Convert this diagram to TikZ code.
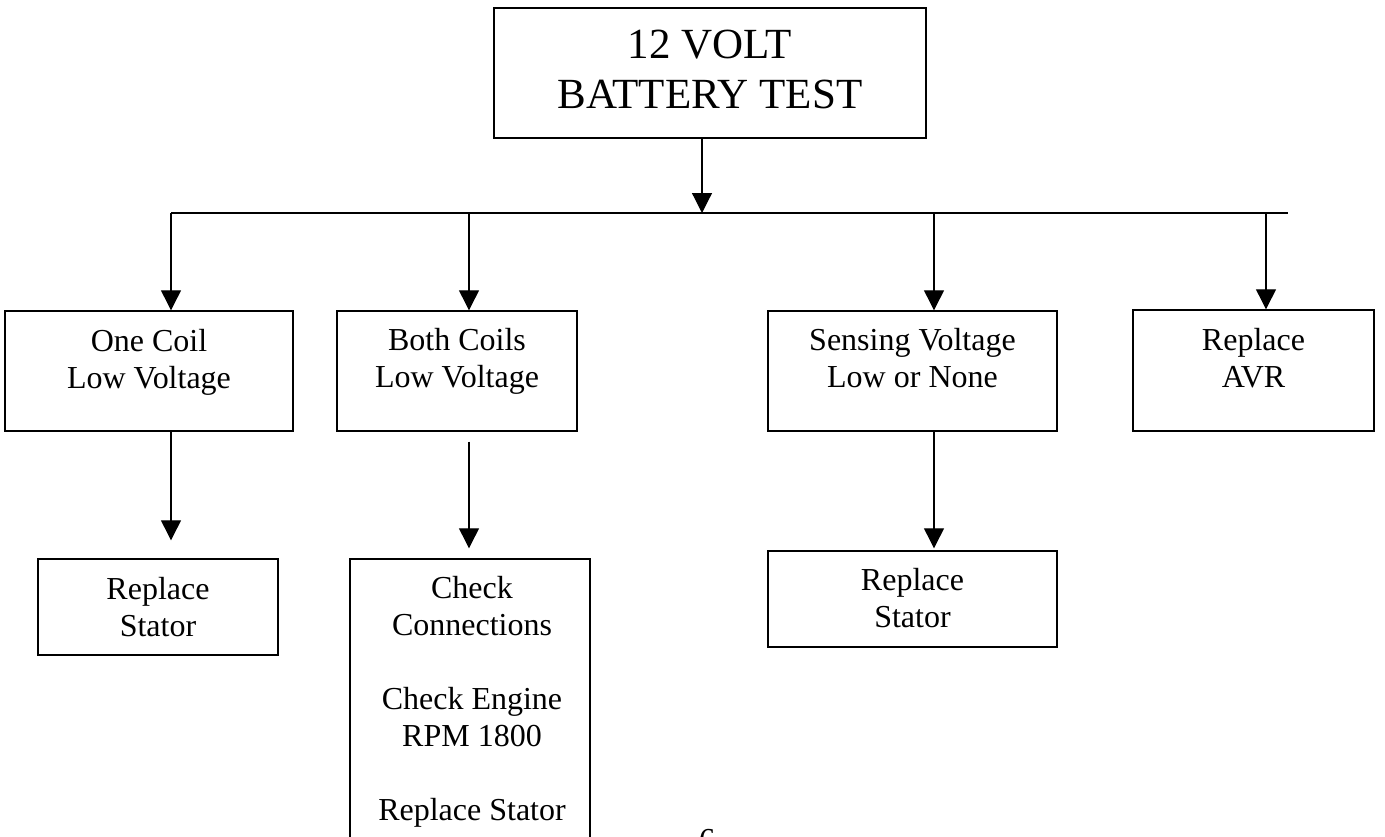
\documentclass[tikz,border=0pt]{standalone}
\usepackage{fontspec}
\setmainfont{Liberation Serif}
\usetikzlibrary{arrows.meta}
\tikzset{
  boxnode/.style={draw, line width=1.4pt, inner sep=0pt},
  bigtxt/.style={inner sep=0pt, align=center, anchor=base, font=\fontsize{43}{50}\selectfont},
  smalltxt/.style={inner sep=0pt, align=center, anchor=base, font=\fontsize{32}{37}\selectfont},
  conn/.style={line width=1.2pt},
  arr/.style={line width=1.2pt, -{Triangle[width=20pt,length=20pt]}}
}
\begin{document}
\begin{tikzpicture}[x=1pt,y=-1pt]
\useasboundingbox (0,0) rectangle (1385,836);
% boxes
\node[boxnode, minimum width=432pt, minimum height=130pt] (top) at (710,73) {};
\node[boxnode, minimum width=288pt, minimum height=120pt] (b1) at (149,371) {};
\node[boxnode, minimum width=240pt, minimum height=120pt] (b2) at (457,371) {};
\node[boxnode, minimum width=289pt, minimum height=120pt] (b3) at (912.5,371) {};
\node[boxnode, minimum width=241pt, minimum height=121pt] (b4) at (1253.5,370.5) {};
\node[boxnode, minimum width=240pt, minimum height=96pt] (r1) at (158,607) {};
\node[boxnode, minimum width=240pt, minimum height=302pt] (c2) at (470,710) {};
\node[boxnode, minimum width=289pt, minimum height=96pt] (r3) at (912.5,599) {};
% texts (anchor base = baseline of last line)
\node[bigtxt] (ttop) at (710,108) {12 VOLT\\BATTERY TEST};
\node[smalltxt] (t1) at (149,388) {One Coil\\Low Voltage};
\node[smalltxt] (t2) at (457,387) {Both Coils\\Low Voltage};
\node[smalltxt] (t3) at (912.5,387) {Sensing Voltage\\Low or None};
\node[smalltxt] (t4) at (1253.5,387) {Replace\\AVR};
\node[smalltxt] (tr1) at (158,636) {Replace\\Stator};
\node[smalltxt] (tc2) at (472,820) {Check\\Connections\\[37pt]Check Engine\\RPM 1800\\[37pt]Replace Stator};
\node[smalltxt] (tr3) at (912.5,627) {Replace\\Stator};
\node[smalltxt] (pagenum) at (707,850) {6};
% bar
\coordinate (j0) at (702,213);
\coordinate (j1) at (171,213);
\coordinate (j2) at (469,213);
\coordinate (j3) at (934,213);
\coordinate (j4) at (1266,213);
\coordinate (jR) at (1288,213);
\draw[conn] (j1) -- (jR);
\draw[arr] (j0 |- top.south) -- (j0);
\draw[arr] (j1) -- (j1 |- b1.north);
\draw[arr] (j2) -- (j2 |- b2.north);
\draw[arr] (j3) -- (j3 |- b3.north);
\draw[arr] (j4) -- (j4 |- b4.north);
% lower arrows
\draw[arr] (j1 |- b1.south) -- ([yshift=18pt]j1 |- r1.north);
\draw[arr] ([yshift=-10pt]j2 |- b2.south) -- ([yshift=10pt]j2 |- c2.north);
\draw[arr] (j3 |- b3.south) -- ([yshift=2pt]j3 |- r3.north);
\end{tikzpicture}
\end{document}
